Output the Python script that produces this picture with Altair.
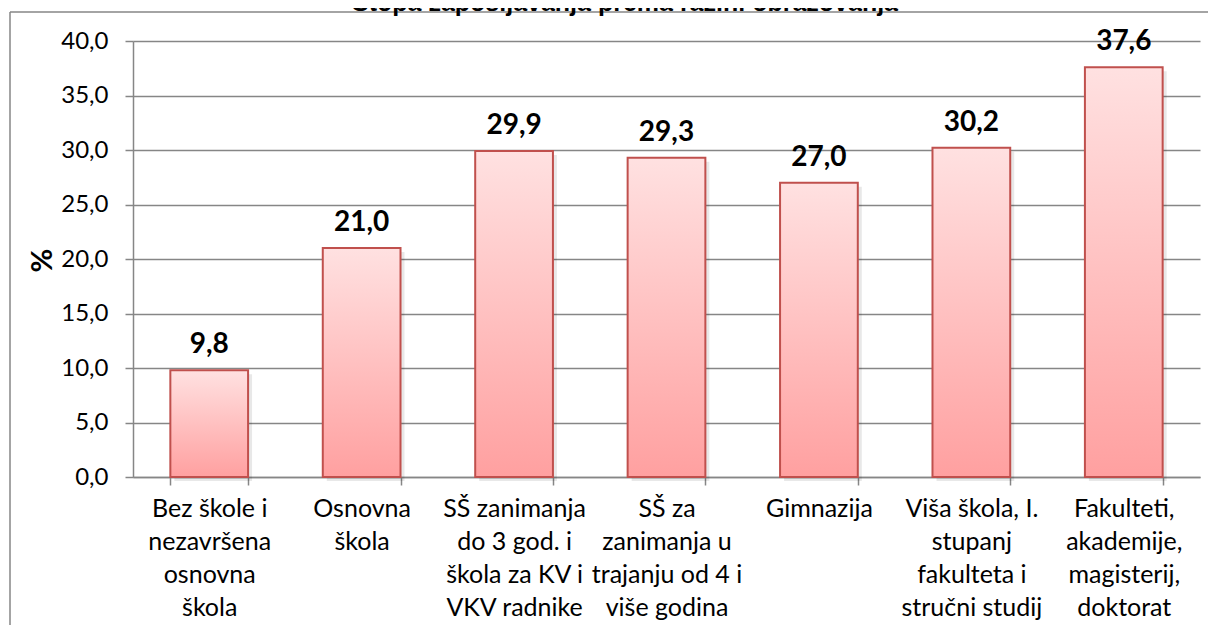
import altair as alt
import pandas as pd

# ---- data -------------------------------------------------------------
categories = [
    "Bez škole i|nezavršena|osnovna|škola",
    "Osnovna|škola",
    "SŠ zanimanja|do 3 god. i|škola za KV i|VKV radnike",
    "SŠ za|zanimanja u|trajanju od 4 i|više godina",
    "Gimnazija",
    "Viša škola, I.|stupanj|fakulteta i|stručni studij",
    "Fakulteti,|akademije,|magisterij,|doktorat",
]
values = [9.8, 21.0, 29.9, 29.3, 27.0, 30.2, 37.6]
y_ticks = [0, 5, 10, 15, 20, 25, 30, 35, 40]
title_text = "Stopa zapošljavanja prema razini obrazovanja"
y_title = "%"

df = pd.DataFrame({"kategorija": categories, "vrijednost": values})

W, H = 1067, 436
GRID = "#868686"
FONT = "Lato"

x_enc = alt.X(
    "kategorija:N",
    sort=categories,
    scale=alt.Scale(paddingInner=0.49, paddingOuter=0.245),
    axis=alt.Axis(
        title=None,
        labelAngle=0,
        labelExpr="split(datum.label, '|')",
        labelFont=FONT,
        labelFontSize=25,
        labelColor="#000000",
        labelLineHeight=33,
        labelPadding=11,
        labelAlign="center",
        labelBaseline="top",
        labelOverlap=False,
        labelLimit=0,
        tickBand="extent",
        tickSize=8,
        tickColor=GRID,
        tickWidth=1.5,
        domainColor=GRID,
        domainWidth=1.5,
        grid=False,
    ),
)

y_enc = alt.Y(
    "vrijednost:Q",
    scale=alt.Scale(domain=[0, 40], nice=False, zero=True),
    axis=alt.Axis(
        values=y_ticks,
        labelExpr="replace(format(datum.value, '.1f'), '.', ',')",
        labelFont=FONT,
        labelFontSize=24,
        labelColor="#000000",
        labelPadding=17,
        tickSize=8,
        tickColor=GRID,
        tickWidth=1.5,
        domainColor=GRID,
        domainWidth=1.5,
        grid=True,
        gridColor=GRID,
        gridWidth=1.5,
        title=y_title,
        titleFont=FONT,
        titleFontSize=29,
        titleFontWeight="bold",
        titleColor="#000000",
        titleX=-91,
        titleY=219,
        titleAlign="center",
        titleBaseline="middle",
    ),
)

shadow = alt.Chart(df).mark_bar(
    color="#000000", opacity=0.09, xOffset=4, x2Offset=4, yOffset=4,
).encode(x=x_enc, y=y_enc)

bars = alt.Chart(df).mark_bar(
    color=alt.Gradient(
        gradient="linear",
        stops=[
            alt.GradientStop(color="#FFE1E1", offset=0),
            alt.GradientStop(color="#FFA0A0", offset=1),
        ],
        x1=0, x2=0, y1=0, y2=1,
    ),
    stroke="#C0504D",
    strokeWidth=2,
).encode(x=x_enc, y=y_enc)

labels = alt.Chart(df).transform_calculate(
    lab="replace(format(datum.vrijednost, '.1f'), '.', ',')"
).mark_text(
    font=FONT, fontSize=28, fontWeight="bold", color="#000000",
    baseline="alphabetic", dy=-17,
).encode(x=alt.X("kategorija:N", sort=categories), y="vrijednost:Q", text="lab:N")

one = pd.DataFrame({"t": [title_text]})
title = alt.Chart(one).mark_text(
    font="Liberation Sans", fontSize=25, fontWeight="bold", color="#000000",
    align="center", baseline="alphabetic",
).encode(x=alt.value(492), y=alt.value(-30), text="t:N")

border_left = alt.Chart(one).mark_rule(color=GRID, strokeWidth=1.5).encode(
    x=alt.value(-123), y=alt.value(-29), y2=alt.value(700)
)
border_top = alt.Chart(one).mark_rule(color=GRID, strokeWidth=1.5).encode(
    x=alt.value(-123), x2=alt.value(1200), y=alt.value(-29)
)

chart = alt.layer(border_left, border_top, title, shadow, bars, labels).properties(
    width=W,
    height=H,
    padding={"left": 125, "top": 33, "right": 8, "bottom": 148},
    autosize=alt.AutoSizeParams(type="none"),
    background="white",
).configure_view(stroke=None)

chart.save("out.html", embed_options={"renderer": "svg", "actions": False})
